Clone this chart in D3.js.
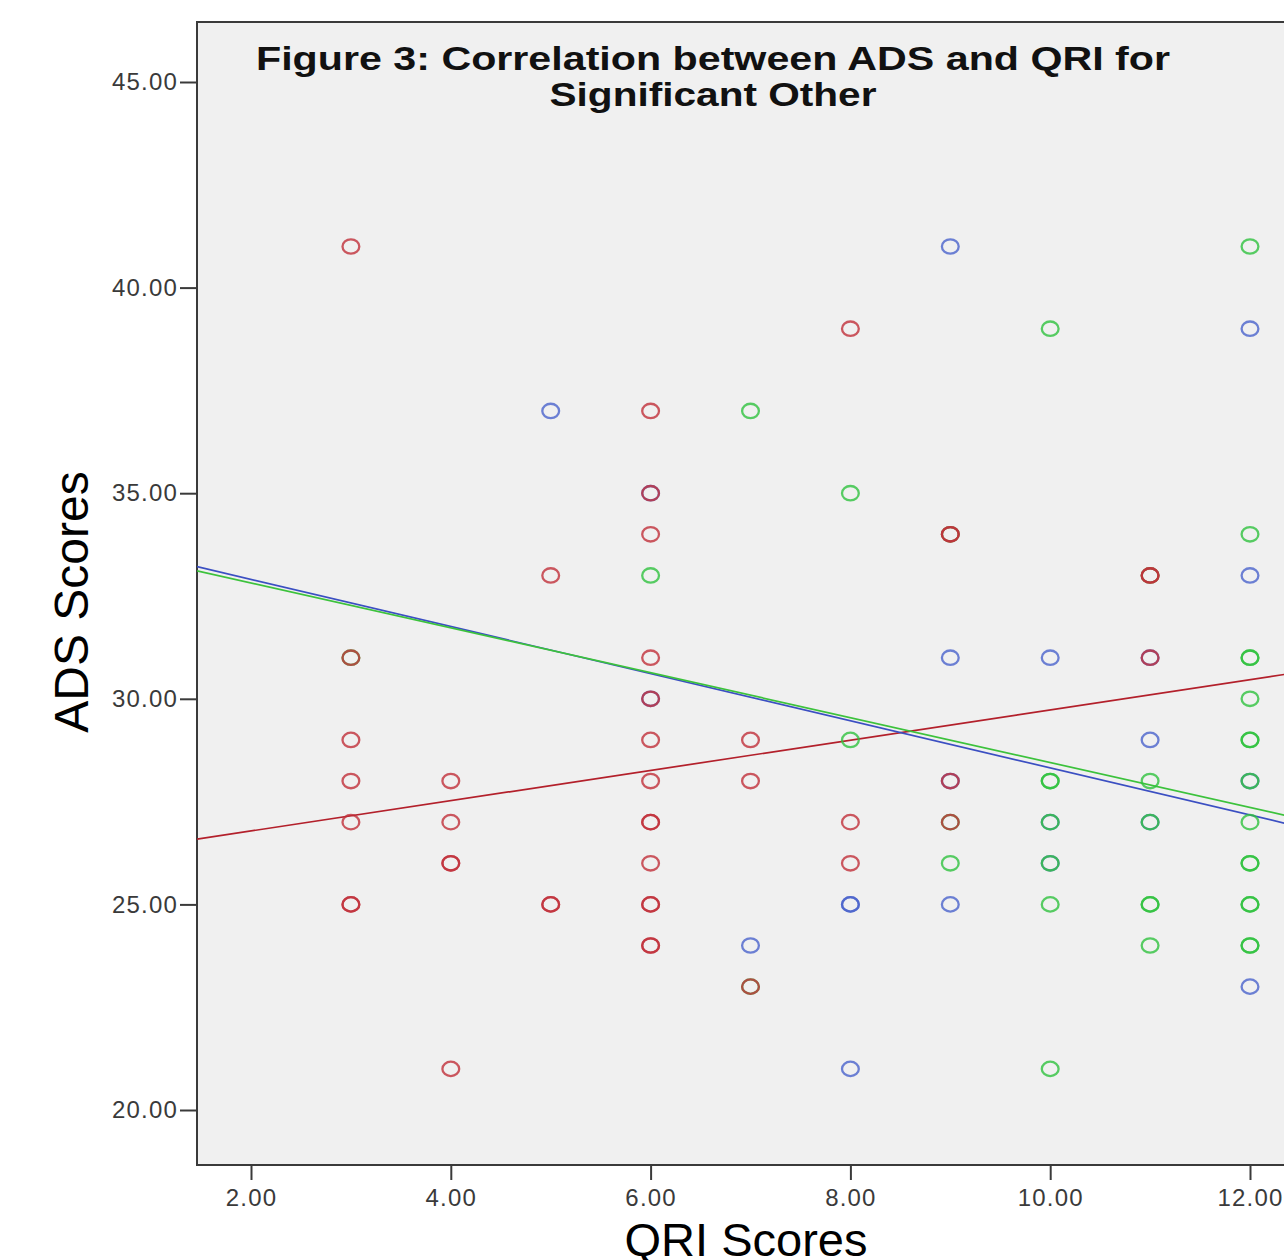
<!DOCTYPE html>
<html>
<head>
<meta charset="utf-8">
<script src="https://cdn.jsdelivr.net/npm/d3@7"></script>
<style>
  html, body { margin: 0; padding: 0; background: #fff; }
  svg { display: block; font-family: "Liberation Sans", Arial, sans-serif; }
</style>
</head>
<body>
<svg id="chart" width="1284" height="1260"></svg>
<script>
// QRI (x) / ADS (y) pairs, one array per group; repeated pairs are overlapping cases
const redPoints = [
  [3, 41], [3, 31], [3, 29], [3, 28], [3, 27], [3, 25], [3, 25],
  [4, 28], [4, 27], [4, 26], [4, 26], [4, 21],
  [5, 33], [5, 25], [5, 25],
  [6, 37], [6, 35], [6, 34], [6, 31], [6, 30], [6, 29], [6, 28], [6, 27], [6, 27],
  [6, 26], [6, 25], [6, 25], [6, 24], [6, 24],
  [7, 29], [7, 28], [7, 23],
  [8, 39], [8, 27], [8, 26],
  [9, 34], [9, 34], [9, 28], [9, 27],
  [11, 33], [11, 33], [11, 31]
];
const bluePoints = [
  [5, 37], [6, 35], [6, 30], [7, 24],
  [8, 25], [8, 25], [8, 21],
  [9, 41], [9, 31], [9, 28], [9, 25],
  [10, 31], [10, 27], [10, 26],
  [11, 31], [11, 29], [11, 27],
  [12, 39], [12, 33], [12, 28], [12, 23]
];
const greenPoints = [
  [3, 31], [6, 33], [7, 37], [7, 23],
  [8, 35], [8, 29],
  [9, 34], [9, 27], [9, 26],
  [10, 39], [10, 28], [10, 28], [10, 27], [10, 26], [10, 25], [10, 21],
  [11, 33], [11, 28], [11, 27], [11, 25], [11, 25], [11, 24],
  [12, 41], [12, 34], [12, 31], [12, 31], [12, 30], [12, 29], [12, 29], [12, 28],
  [12, 27], [12, 26], [12, 26], [12, 25], [12, 25], [12, 24], [12, 24]
];

// fit lines: [intercept, slope]
const redFit = [26.05, 0.368];
const blueFit = [34.05, -0.573];
const greenFit = [33.91, -0.546];

const xTicks = [2, 4, 6, 8, 10, 12];
const yTicks = [20, 25, 30, 35, 40, 45];
const titleLines = ['Figure 3: Correlation between ADS and QRI for', 'Significant Other'];

const svg = d3.select('#chart');

const x = d3.scaleLinear().domain([2, 12]).range([251, 1250]);
const y = d3.scaleLinear().domain([20, 45]).range([1110, 82]);

const plotLeft = 197, plotTop = 22, plotBottom = 1165, plotRight = 1320;

// plot background + frame
svg.append('rect')
  .attr('x', plotLeft).attr('y', plotTop)
  .attr('width', plotRight - plotLeft).attr('height', plotBottom - plotTop)
  .attr('fill', '#f0f0f0')
  .attr('stroke', '#3a3a3a')
  .attr('stroke-width', 2);

svg.append('clipPath').attr('id', 'plotClip')
  .append('rect')
  .attr('x', plotLeft).attr('y', plotTop)
  .attr('width', plotRight - plotLeft).attr('height', plotBottom - plotTop);

// axes
const yAxis = svg.append('g')
  .attr('transform', `translate(${plotLeft},0)`)
  .call(d3.axisLeft(y).tickValues(yTicks).tickFormat(d3.format('.2f')).tickSize(17).tickPadding(2));
const xAxis = svg.append('g')
  .attr('transform', `translate(0,${plotBottom})`)
  .call(d3.axisBottom(x).tickValues(xTicks).tickFormat(d3.format('.2f')).tickSize(15).tickPadding(9));

[xAxis, yAxis].forEach(ax => {
  ax.select('.domain').remove();
  ax.selectAll('.tick line').attr('stroke', '#3a3a3a').attr('stroke-width', 2);
  ax.selectAll('.tick text')
    .attr('fill', '#3a3a3a')
    .style('font-family', '"Liberation Sans", Arial, sans-serif')
    .style('font-size', '24px')
    .style('letter-spacing', '1.2px');
});

const plot = svg.append('g').attr('clip-path', 'url(#plotClip)');

// fit lines
const xs = [x.invert(plotLeft), x.invert(plotRight)];
const lineGen = d3.line().x(d => x(d[0])).y(d => y(d[1]));
[[redFit, '#b3202b'], [blueFit, '#3b4fc2'], [greenFit, '#3cc23c']].forEach(([fit, col]) => {
  plot.append('path')
    .datum(xs.map(v => [v, fit[0] + fit[1] * v]))
    .attr('d', lineGen)
    .attr('fill', 'none')
    .attr('stroke', col)
    .attr('stroke-width', 1.7);
});

// points: blue first, then green, red on top
const groups = [
  { pts: bluePoints, color: '#4a63cc' },
  { pts: greenPoints, color: '#2fc23f' },
  { pts: redPoints, color: '#c0303a' }
];
groups.forEach(g => {
  plot.append('g').selectAll('ellipse')
    .data(g.pts)
    .join('ellipse')
    .attr('cx', d => x(d[0]))
    .attr('cy', d => y(d[1]))
    .attr('rx', 8.4)
    .attr('ry', 7.2)
    .attr('fill', 'none')
    .attr('stroke', g.color)
    .attr('stroke-opacity', 0.8)
    .attr('stroke-width', 2.3);
});

// title
const titleWidths = [914, 327];
svg.append('g').selectAll('text')
  .data(titleLines)
  .join('text')
  .attr('x', 713)
  .attr('y', (d, i) => 70 + i * 36)
  .attr('text-anchor', 'middle')
  .attr('textLength', (d, i) => titleWidths[i])
  .attr('lengthAdjust', 'spacingAndGlyphs')
  .style('font-size', '33px')
  .style('font-weight', 'bold')
  .attr('fill', '#111')
  .text(d => d);

// axis titles
svg.append('text')
  .attr('transform', 'translate(88,602) rotate(-90)')
  .attr('text-anchor', 'middle')
  .style('font-size', '48px')
  .attr('fill', '#000')
  .text('ADS Scores');

svg.append('text')
  .attr('x', 746).attr('y', 1256)
  .attr('text-anchor', 'middle')
  .style('font-size', '47px')
  .attr('fill', '#000')
  .text('QRI Scores');
</script>
</body>
</html>
